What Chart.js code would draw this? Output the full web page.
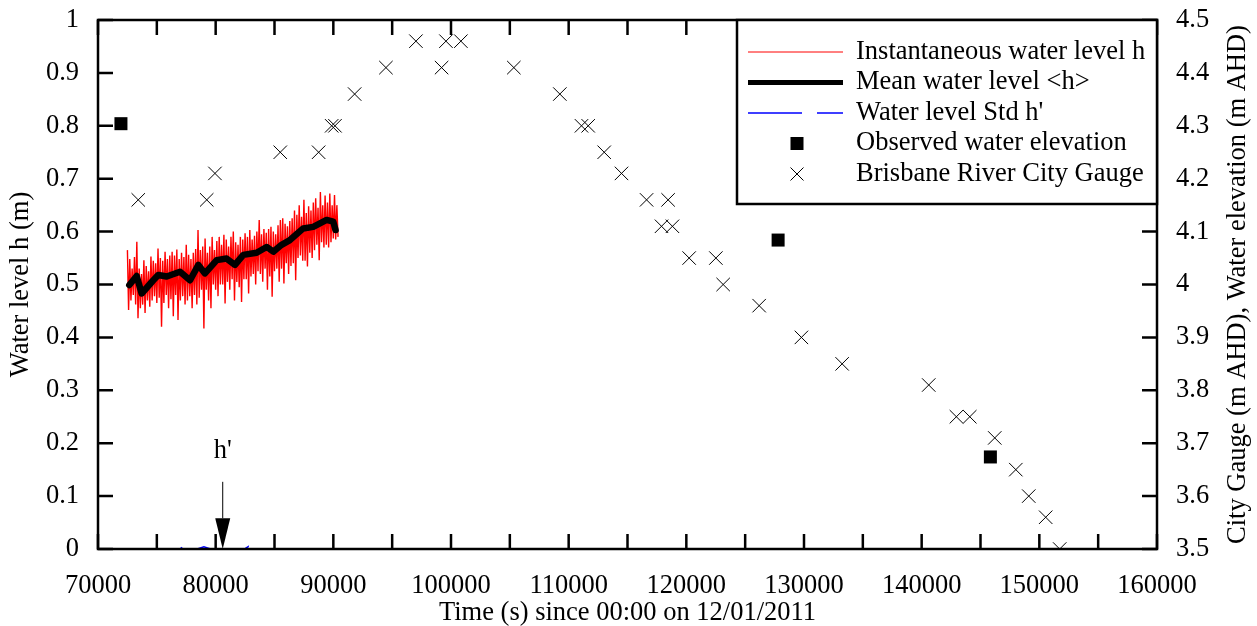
<!DOCTYPE html>
<html>
<head>
<meta charset="utf-8">
<title>Water level</title>
<script src="https://cdn.jsdelivr.net/npm/chart.js@4.4.1/dist/chart.umd.min.js"></script>
<style>
  html, body { margin: 0; padding: 0; background: #fff; }
  canvas { display: block; }
</style>
</head>
<body>
<canvas id="levelChart" width="1257" height="626"></canvas>
<script>
// instantaneous water level h (m), sampled peaks and troughs of the record
const hTime = [
    72500, 72600, 72700, 72800, 72900, 73000, 73100, 73200, 73300, 73400,
    73500, 73600, 73700, 73800, 73900, 74000, 74100, 74200, 74300, 74400,
    74500, 74600, 74700, 74800, 74900, 75000, 75100, 75200, 75300, 75400,
    75500, 75600, 75700, 75800, 75900, 76000, 76100, 76200, 76300, 76400,
    76500, 76600, 76700, 76800, 76900, 77000, 77100, 77200, 77300, 77400,
    77500, 77600, 77700, 77800, 77900, 78000, 78100, 78200, 78300, 78400,
    78500, 78600, 78700, 78800, 78900, 79000, 79100, 79200, 79300, 79400,
    79500, 79600, 79700, 79800, 79900, 80000, 80100, 80200, 80300, 80400,
    80500, 80600, 80700, 80800, 80900, 81000, 81100, 81200, 81300, 81400,
    81500, 81600, 81700, 81800, 81900, 82000, 82100, 82200, 82300, 82400,
    82500, 82600, 82700, 82800, 82900, 83000, 83100, 83200, 83300, 83400,
    83500, 83600, 83700, 83800, 83900, 84000, 84100, 84200, 84300, 84400,
    84500, 84600, 84700, 84800, 84900, 85000, 85100, 85200, 85300, 85400,
    85500, 85600, 85700, 85800, 85900, 86000, 86100, 86200, 86300, 86400,
    86500, 86600, 86700, 86800, 86900, 87000, 87100, 87200, 87300, 87400,
    87500, 87600, 87700, 87800, 87900, 88000, 88100, 88200, 88300, 88400,
    88500, 88600, 88700, 88800, 88900, 89000, 89100, 89200, 89300, 89400,
    89500, 89600, 89700, 89800, 89900, 90000, 90100, 90200, 90300, 90400
];
const hValue = [
    0.565, 0.452, 0.548, 0.470, 0.530, 0.480, 0.552, 0.462, 0.581, 0.436,
    0.530, 0.455, 0.520, 0.462, 0.546, 0.446, 0.535, 0.470, 0.525, 0.458,
    0.553, 0.470, 0.545, 0.478, 0.540, 0.465, 0.568, 0.475, 0.550, 0.420,
    0.545, 0.465, 0.562, 0.480, 0.548, 0.455, 0.555, 0.472, 0.562, 0.440,
    0.555, 0.480, 0.566, 0.433, 0.548, 0.470, 0.560, 0.478, 0.552, 0.462,
    0.575, 0.470, 0.556, 0.478, 0.548, 0.455, 0.560, 0.480, 0.567, 0.462,
    0.603, 0.475, 0.565, 0.490, 0.572, 0.417, 0.587, 0.490, 0.560, 0.470,
    0.572, 0.455, 0.590, 0.500, 0.565, 0.490, 0.582, 0.478, 0.590, 0.500,
    0.575, 0.500, 0.594, 0.464, 0.585, 0.505, 0.572, 0.490, 0.590, 0.510,
    0.600, 0.470, 0.580, 0.505, 0.575, 0.495, 0.590, 0.467, 0.585, 0.510,
    0.597, 0.510, 0.590, 0.483, 0.603, 0.515, 0.585, 0.520, 0.592, 0.500,
    0.600, 0.525, 0.622, 0.520, 0.595, 0.505, 0.605, 0.530, 0.598, 0.490,
    0.605, 0.515, 0.609, 0.477, 0.600, 0.525, 0.595, 0.530, 0.612, 0.505,
    0.622, 0.530, 0.625, 0.502, 0.615, 0.540, 0.610, 0.520, 0.620, 0.535,
    0.625, 0.540, 0.640, 0.508, 0.632, 0.550, 0.650, 0.555, 0.628, 0.545,
    0.660, 0.545, 0.635, 0.534, 0.648, 0.560, 0.640, 0.550, 0.655, 0.565,
    0.663, 0.575, 0.645, 0.546, 0.675, 0.580, 0.650, 0.570, 0.668, 0.575,
    0.655, 0.570, 0.672, 0.580, 0.650, 0.587, 0.669, 0.585, 0.650, 0.590
];

// mean water level <h> (m)
const meanTime = [72660, 73290, 73710, 74700, 75120, 75840, 76970, 77820, 78530, 79090,
    80090, 80930, 81640, 82350, 83480, 84330, 84900, 85600, 86310, 87440,
    88290, 89430, 89990, 90190];
const meanValue = [0.499, 0.516, 0.483, 0.508, 0.518, 0.515, 0.524, 0.508, 0.537, 0.521,
    0.546, 0.549, 0.537, 0.556, 0.560, 0.571, 0.562, 0.575, 0.584, 0.606,
    0.609, 0.622, 0.619, 0.603];

// water level std h' (m)
const stdTime = [72600, 74000, 75500, 77000, 77300, 77600, 78500, 79000, 79500,
    80500, 81500, 82500, 82800, 83100, 84500, 86500, 88500, 90400];
const stdValue = [0.0005, 0.0005, 0.0005, 0.0005, 0.005, 0.0005, 0.0005, 0.004, 0.0005,
    0.0005, 0.0005, 0.0005, 0.005, 0.0005, 0.0005, 0.0005, 0.0005, 0.0005];

// observed water elevation (m AHD)
const obsTime = [71950, 127800, 145840];
const obsElev = [4.304, 4.084, 3.674];

// Brisbane River City Gauge (m AHD)
const gaugeTime = [73420, 79240, 79940, 85490, 88750, 89860, 90140, 91810, 94470, 97020,
    99200, 99570, 100840, 105340, 109250, 111090, 111660, 113020, 114490, 116620,
    118450, 117890, 118820, 120240, 122510, 123130, 126190, 129780, 133240, 140600,
    142950, 144090, 146210, 148000, 149100, 150540, 151730];
const gaugeElev = [4.16, 4.16, 4.21, 4.25, 4.25, 4.30, 4.30, 4.36, 4.41, 4.46,
    4.41, 4.46, 4.46, 4.41, 4.36, 4.30, 4.30, 4.25, 4.21, 4.16,
    4.16, 4.11, 4.11, 4.05, 4.05, 4.00, 3.96, 3.90, 3.85, 3.81,
    3.75, 3.75, 3.71, 3.65, 3.60, 3.56, 3.50];

const legendLabels = [
    'Instantaneous water level h',
    'Mean water level <h>',
    "Water level Std h'",
    'Observed water elevation',
    'Brisbane River City Gauge'
];

const SERIF = '"Liberation Serif", "Times New Roman", serif';
const FONT_SIZE = 26.5;

function toPoints(xs, ys) {
    return xs.map((x, i) => ({ x: x, y: ys[i] }));
}

// vertical axes: fixed width, no extra room asked for the end labels
function fixVertical(width) {
    return s => {
        s.width = width;
        s.paddingTop = 0;
        s.paddingBottom = 0;
    };
}

// frame, inward ticks, the h' arrow
const frameTicks = {
    id: 'frameTicks',
    afterDatasetsDraw(chart) {
        const { ctx, chartArea: a, scales } = chart;
        ctx.save();
        ctx.strokeStyle = '#000';
        ctx.lineWidth = 2.5;
        ctx.beginPath();
        scales.x.ticks.forEach(t => {
            const px = scales.x.getPixelForValue(t.value);
            ctx.moveTo(px, a.bottom); ctx.lineTo(px, a.bottom - 15);
            ctx.moveTo(px, a.top); ctx.lineTo(px, a.top + 15);
        });
        scales.y.ticks.forEach(t => {
            const py = scales.y.getPixelForValue(t.value);
            ctx.moveTo(a.left, py); ctx.lineTo(a.left + 15, py);
        });
        scales.y2.ticks.forEach(t => {
            const py = scales.y2.getPixelForValue(t.value);
            ctx.moveTo(a.right, py); ctx.lineTo(a.right - 15, py);
        });
        ctx.stroke();
        ctx.strokeRect(a.left, a.top, a.right - a.left, a.bottom - a.top);

        // arrow pointing at the std line
        const ax = scales.x.getPixelForValue(80600);
        const yTop = scales.y.getPixelForValue(0.127);
        const yHead = scales.y.getPixelForValue(0.058);
        const yTip = scales.y.getPixelForValue(0);
        ctx.lineWidth = 1;
        ctx.beginPath();
        ctx.moveTo(ax, yTop); ctx.lineTo(ax, yHead);
        ctx.stroke();
        ctx.fillStyle = '#000';
        ctx.beginPath();
        ctx.moveTo(ax - 7.5, yHead); ctx.lineTo(ax + 7.5, yHead); ctx.lineTo(ax, yTip);
        ctx.closePath();
        ctx.fill();
        ctx.font = FONT_SIZE + 'px ' + SERIF;
        ctx.textAlign = 'center';
        ctx.textBaseline = 'middle';
        ctx.fillText("h'", ax, scales.y.getPixelForValue(0.185));
        ctx.restore();
    }
};

// boxed legend in the upper right corner + right axis title
const boxLegend = {
    id: 'boxLegend',
    afterDraw(chart) {
        const { ctx, chartArea: a } = chart;
        const left = a.right - 420, top = a.top, bottom = a.top + 184;
        ctx.save();
        ctx.fillStyle = '#fff';
        ctx.fillRect(left, top, a.right - left, bottom - top);
        ctx.strokeStyle = '#000';
        ctx.lineWidth = 2.5;
        ctx.strokeRect(left, top, a.right - left, bottom - top);

        const x0 = left + 11, x1 = left + 106, xm = left + 60, xt = left + 119;
        const rows = [32, 62.5, 93, 123.5, 154].map(d => top + d);

        ctx.strokeStyle = '#ff0000';
        ctx.lineWidth = 1;
        ctx.beginPath(); ctx.moveTo(x0, rows[0]); ctx.lineTo(x1, rows[0]); ctx.stroke();

        ctx.strokeStyle = '#000';
        ctx.lineWidth = 5;
        ctx.beginPath(); ctx.moveTo(x0, rows[1]); ctx.lineTo(x1, rows[1]); ctx.stroke();

        ctx.strokeStyle = '#0000ff';
        ctx.lineWidth = 1.5;
        ctx.setLineDash([54, 15]);
        ctx.beginPath(); ctx.moveTo(x0, rows[2]); ctx.lineTo(x1, rows[2]); ctx.stroke();
        ctx.setLineDash([]);

        ctx.fillStyle = '#000';
        ctx.fillRect(xm - 6.5, rows[3] - 6.5, 13, 13);

        ctx.strokeStyle = '#000';
        ctx.lineWidth = 1;
        ctx.beginPath();
        ctx.moveTo(xm - 6.5, rows[4] - 6.5); ctx.lineTo(xm + 6.5, rows[4] + 6.5);
        ctx.moveTo(xm + 6.5, rows[4] - 6.5); ctx.lineTo(xm - 6.5, rows[4] + 6.5);
        ctx.stroke();

        ctx.font = FONT_SIZE + 'px ' + SERIF;
        ctx.textAlign = 'left';
        ctx.textBaseline = 'middle';
        legendLabels.forEach((txt, i) => ctx.fillText(txt, xt, rows[i]));

        // right axis title, reading upwards
        ctx.translate(1238, (a.top + a.bottom) / 2);
        ctx.rotate(-Math.PI / 2);
        ctx.textAlign = 'center';
        ctx.fillText('City Gauge (m AHD), Water elevation (m AHD)', 0, 0);
        ctx.restore();
    }
};

const ctx = document.getElementById('levelChart').getContext('2d');

new Chart(ctx, {
    type: 'scatter',
    data: {
        datasets: [
            {
                label: legendLabels[1],
                data: toPoints(meanTime, meanValue),
                yAxisID: 'y',
                showLine: true,
                borderColor: '#000',
                borderWidth: 6.5,
                borderJoinStyle: 'round',
                borderCapStyle: 'round',
                pointRadius: 0,
                order: 0
            },
            {
                label: legendLabels[0],
                data: toPoints(hTime, hValue),
                yAxisID: 'y',
                showLine: true,
                borderColor: '#ff0000',
                borderWidth: 1.4,
                pointRadius: 0,
                order: 1
            },
            {
                label: legendLabels[2],
                data: toPoints(stdTime, stdValue),
                yAxisID: 'y',
                showLine: true,
                borderColor: '#0000ff',
                borderWidth: 1.5,
                borderDash: [54, 15],
                pointRadius: 0,
                order: 2
            },
            {
                label: legendLabels[3],
                data: toPoints(obsTime, obsElev),
                yAxisID: 'y2',
                pointStyle: 'rect',
                pointRadius: 9.2,
                backgroundColor: '#000',
                borderColor: '#000',
                borderWidth: 0,
                order: 3
            },
            {
                label: legendLabels[4],
                data: toPoints(gaugeTime, gaugeElev),
                yAxisID: 'y2',
                pointStyle: 'crossRot',
                pointRadius: 9.5,
                borderColor: '#000',
                borderWidth: 1,
                order: 4
            }
        ]
    },
    options: {
        responsive: false,
        animation: false,
        layout: { padding: { top: 20, left: 0, right: 0, bottom: 0 } },
        plugins: {
            legend: { display: false },
            tooltip: { enabled: false }
        },
        scales: {
            x: {
                type: 'linear',
                min: 70000,
                max: 160000,
                grid: { display: false },
                border: { display: false },
                ticks: {
                    stepSize: 5000,
                    autoSkip: false,
                    maxRotation: 0,
                    padding: 13,
                    color: '#000',
                    font: { family: SERIF, size: FONT_SIZE },
                    callback: v => (v % 10000 === 0 ? String(v) : '')
                },
                title: {
                    display: true,
                    text: 'Time (s) since 00:00 on 12/01/2011',
                    color: '#000',
                    font: { family: SERIF, size: FONT_SIZE },
                    padding: { top: 0, bottom: -3 }
                },
                afterFit: s => { s.height = 77; }
            },
            y: {
                position: 'left',
                min: 0,
                max: 1,
                grid: { display: false },
                border: { display: false },
                ticks: {
                    stepSize: 0.1,
                    autoSkip: false,
                    padding: 11,
                    color: '#000',
                    font: { family: SERIF, size: FONT_SIZE },
                    callback: v => String(+v.toFixed(1))
                },
                title: {
                    display: true,
                    text: 'Water level h (m)',
                    color: '#000',
                    font: { family: SERIF, size: FONT_SIZE },
                    padding: { top: 5, bottom: 0 }
                },
                afterFit: fixVertical(98)
            },
            y2: {
                position: 'right',
                min: 3.5,
                max: 4.5,
                grid: { display: false },
                border: { display: false },
                ticks: {
                    stepSize: 0.1,
                    autoSkip: false,
                    padding: 11,
                    color: '#000',
                    font: { family: SERIF, size: FONT_SIZE },
                    callback: v => String(+v.toFixed(1))
                },
                afterFit: fixVertical(100)
            }
        }
    },
    plugins: [frameTicks, boxLegend]
});
</script>
</body>
</html>
